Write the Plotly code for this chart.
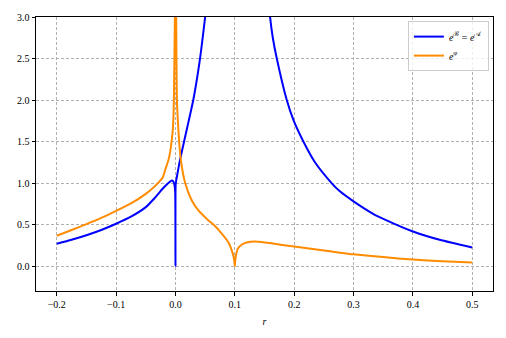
import plotly.graph_objects as go

# ---- data ----
r_blue = [-0.2, -0.175, -0.15, -0.125, -0.1, -0.075, -0.05, -0.035, -0.0213, -0.0128,
          -0.006, -0.003, -0.0015, -0.0005, 0.0, 0.0003, 0.001, 0.003, 0.0074, 0.0145,
          0.022, 0.030, 0.0404, 0.05, 0.056, None,
          0.154, 0.1594, 0.164, 0.1707, 0.1875, 0.1987, 0.2155, 0.235, 0.263, 0.277,
          0.3, 0.333, 0.353, 0.4, 0.445, 0.5]
e_B = [0.27, 0.318, 0.372, 0.435, 0.51, 0.595, 0.71, 0.82, 0.935, 0.995,
       1.03, 1.01, 0.97, 0.9, 0.0, 0.98, 1.02, 1.1, 1.27, 1.5,
       1.74, 2.0, 2.45, 3.0, 3.4, None,
       3.5, 3.0, 2.75, 2.5, 2.0, 1.76, 1.5, 1.25, 1.0, 0.90,
       0.78, 0.63, 0.56, 0.417, 0.317, 0.224]

r_orange = [-0.2, -0.175, -0.15, -0.125, -0.1, -0.075, -0.05, -0.035, -0.0213, -0.0173,
            -0.011, -0.005, -0.0034, -0.0025, -0.001, -0.0004,
            0.0004, 0.0012, 0.0023, 0.004, 0.0062, 0.009, 0.0163, 0.0275, 0.0387,
            0.0556, 0.064, 0.078, 0.0904, 0.0966, 0.099, 0.1, 0.101, 0.105, 0.112,
            0.12, 0.134, 0.145, 0.159, 0.2, 0.244, 0.277, 0.3, 0.35, 0.4, 0.45, 0.5]
e_phi = [0.365, 0.435, 0.505, 0.58, 0.665, 0.755, 0.87, 0.96, 1.07, 1.16,
         1.3, 1.6, 1.8, 2.1, 3.0, 3.6,
         3.6, 3.0, 2.02, 1.75, 1.5, 1.28, 1.0, 0.79, 0.67,
         0.55, 0.5, 0.39, 0.27, 0.15, 0.07, 0.0, 0.09, 0.21, 0.26,
         0.285, 0.296, 0.29, 0.277, 0.235, 0.193, 0.162, 0.142, 0.108, 0.078, 0.058, 0.044]

x_ticks = [-0.2, -0.1, 0.0, 0.1, 0.2, 0.3, 0.4, 0.5]
y_ticks = [0.0, 0.5, 1.0, 1.5, 2.0, 2.5, 3.0]

FONT = "Liberation Serif, DejaVu Serif, serif"

fig = go.Figure()
fig.add_trace(go.Scatter(x=r_blue, y=e_B, mode="lines", connectgaps=False,
                         line=dict(color="#0000ff", width=2, shape="spline", smoothing=0.6),
                         name="<i>e</i><sup>ℬ</sup> = <i>e</i><sup>𝒜</sup>"))
fig.add_trace(go.Scatter(x=r_orange, y=e_phi, mode="lines",
                         line=dict(color="#ff8c00", width=2, shape="spline", smoothing=0.6),
                         name="<i>e</i><sup>φ</sup>"))

axis_common = dict(showline=True, linecolor="black", linewidth=1, mirror=True,
                   ticks="outside", ticklen=3.5, tickwidth=0.8, tickcolor="black",
                   showgrid=True, gridcolor="#b0b0b0", gridwidth=0.8, griddash="3px,2px",
                   zeroline=False, automargin=False,
                   tickfont=dict(family=FONT, size=10, color="black"))

fig.update_xaxes(range=[-0.235, 0.535], tickvals=x_ticks, tickformat=".1f",
                 title=dict(text="<i>r</i>", font=dict(family=FONT, size=10, color="black"),
                            standoff=9),
                 **axis_common)
fig.update_yaxes(range=[-0.3, 3.0], tickvals=y_ticks, tickformat=".1f", **axis_common)

# page body has an 8px default margin: figure is sized/offset to compensate
fig.update_layout(
    width=498, height=330,
    margin=dict(l=28, r=13, t=9, b=47),
    plot_bgcolor="white", paper_bgcolor="white",
    font=dict(family=FONT, size=10, color="black"),
    legend=dict(x=0.991, y=0.985, xanchor="right", yanchor="top",
                bgcolor="rgba(255,255,255,0.8)", bordercolor="#cccccc", borderwidth=1,
                font=dict(family=FONT, size=10, color="black"),
                tracegroupgap=0, itemwidth=30),
    showlegend=True,
)

fig.write_html("out.html")
